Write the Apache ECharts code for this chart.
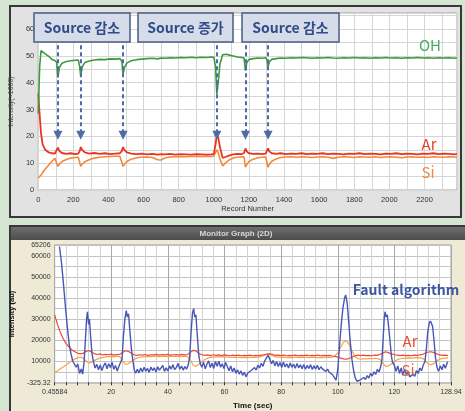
<!DOCTYPE html>
<html>
<head>
<meta charset="utf-8">
<script src="https://cdn.jsdelivr.net/npm/echarts@6/dist/echarts.min.js"></script>
<style>
html,body{margin:0;padding:0;background:#d4e5d2;}
#chart{width:465px;height:411px;}
</style>
</head>
<body>
<div id="chart"></div>
<script>
// ---- Upper panel: OES intensity trend vs record number (values ×1000) ----
const topRecord = [0,8,16,25,40,60,80,95,105,112,120,135,160,185,210,228,236,242,250,265,290,320,350,380,410,440,465,476,483,490,505,530,560,590,620,650,680,700,720,750,780,810,840,870,900,930,960,985,1000,1010,1017,1025,1035,1050,1070,1090,1110,1135,1160,1172,1180,1188,1200,1225,1250,1275,1295,1303,1309,1316,1330,1355,1380,1410,1440,1470,1500,1530,1560,1590,1620,1650,1680,1710,1740,1770,1800,1830,1860,1890,1920,1950,1980,2010,2040,2070,2100,2130,2160,2190,2220,2250,2280,2310,2340,2370,2385];
const ohValue = [28.5,46,52,51.5,50.8,49.8,48.6,48.3,47.5,42,45.5,47.3,47.9,48.2,48.4,48.5,46,42.3,45.8,47.5,48.1,48.5,48.7,48.6,48.9,48.8,49,48,43,45.5,47.4,48.2,48.6,48.8,49,49.1,48.9,49.2,49.1,49.3,49.2,49.4,49.3,49.5,49.3,49.5,49.4,49.6,49.5,46,35.8,40,47,50.4,50.6,50.3,50,49.6,49.4,49.2,44.5,47.5,48.7,49,49.2,49.1,49.3,48.5,45.8,47.8,48.7,49,49.2,49.1,49.3,49.2,49.4,49.3,49.1,49.3,49.2,49.4,49.2,49.1,49.3,49.2,49.4,49.2,49.3,49.1,49.3,49.2,49.4,49.2,49.3,49.1,49.3,49.2,49.4,49.2,49.3,49.1,49.3,49.2,49.3,49.1,49.3];
const arValue = [36,28,21,17,15,14,13.7,13.6,14,15.8,14.6,13.8,13.5,13.7,13.4,13.6,14.5,16,15,14,13.6,13.8,13.5,13.7,13.4,13.6,13.7,14.5,16,15,14,13.6,13.4,13.6,13.3,13.5,13.2,13.4,13.3,13.5,13.2,13.4,13.3,13.2,13.4,13.3,13.2,13.3,13.5,17,20.5,19.5,16,12,12.4,12.9,13.3,13.5,13.4,13.8,15.5,14.3,13.7,13.5,13.6,13.4,13.6,14.3,15.5,14.4,13.7,13.5,13.7,13.4,13.6,13.5,13.7,13.4,13.6,13.5,13.7,13.4,13.6,13.5,13.3,13.6,13.5,13.7,13.4,13.6,13.5,13.3,13.6,13.5,13.7,13.4,13.6,13.5,13.3,13.6,13.5,13.7,13.4,13.6,13.5,13.3,13.5];
const siValue = [4.5,5,5.6,6.5,7.8,9.3,10.8,11.8,12,8.8,9.6,10.6,11.4,11.9,12.1,12.2,11.5,8.8,9.6,10.5,11.3,11.9,12.2,12.4,12.5,12.6,12.6,12,8.8,9.6,10.6,11.5,12,12.2,12.3,12.1,11.3,11.2,11.9,12.3,12.4,12.5,12.4,12.5,12.6,12.5,12.6,12.5,12.7,14,15,14,11.5,9,10.3,11.3,11.9,12.2,12.4,12.3,8.5,9.5,10.6,11.5,12,12.2,12.3,11.6,8.5,9.5,10.7,11.6,12.1,12.3,12.4,12.2,12.4,12.3,12.1,12.3,12.4,12.2,11.8,12.2,12.4,12.3,12.1,12.4,12.3,12.2,12.4,12.1,12.3,12.4,12.2,12,12.3,12.4,12.2,12.3,12.1,12.4,12.3,12.2,12.4,12.3,12.2];
// records where the source power was changed (arrow targets)
const eventRecords = [112, 242, 483, 1017, 1180, 1309];
const eventBoxes = ['Source 감소', 'Source 증가', 'Source 감소'];

// ---- Lower panel: monitor graph, intensity (au) vs time (sec) ----
const faultTime = [1.7,2.4,3.1,3.8,4.5,5.2,5.8,6.4,7.0,7.6,8.2,8.8,9.4,9.9,10.4,10.9,11.3,11.6,12.0,12.3,12.7,13.2,13.7,14.3,14.9,15.5,16.1,16.7,17.3,17.9,18.5,19.1,19.7,20.3,20.9,21.5,22.1,22.7,23.3,23.8,24.3,24.8,25.3,25.7,26.1,26.6,27.1,27.6,28.1,28.6,29.2,29.8,30.4,31.0,31.6,32.2,32.8,33.4,34.0,34.6,35.2,35.8,36.4,37.0,37.6,38.2,38.8,39.4,40.0,40.6,41.2,41.8,42.4,43.0,43.6,44.2,44.8,45.4,46.0,46.6,47.2,47.7,48.2,48.7,49.1,49.5,49.9,50.4,50.9,51.4,52.0,52.6,53.2,53.8,54.4,55.0,55.6,56.2,56.8,57.4,58.0,58.6,59.2,59.8,60.4,61.0,61.6,62.2,62.8,63.4,64.0,64.6,65.2,65.8,66.4,67.0,67.6,68.2,68.8,69.4,70.0,70.6,71.2,71.8,72.4,73.0,73.6,74.2,74.8,75.4,76.0,76.6,77.2,77.8,78.4,79.0,79.6,80.2,80.8,81.4,82.0,82.6,83.2,83.8,84.4,85.0,85.6,86.2,86.8,87.4,88.0,88.6,89.2,89.8,90.4,91.0,91.6,92.2,92.8,93.4,94.0,94.6,95.2,95.8,96.4,97.0,97.6,98.2,98.8,99.4,100.0,100.6,101.2,101.8,102.4,102.8,103.3,103.8,104.4,105.0,105.6,106.2,106.8,107.4,108.0,108.6,109.2,109.8,110.4,111.0,111.6,112.2,112.8,113.4,114.0,114.6,115.2,115.6,116.0,116.4,116.7,117.1,117.5,118.0,118.5,119.0,119.4,120.0,120.6,121.2,121.8,122.4,123.0,123.6,124.2,124.8,125.4,126.0,126.6,127.2,127.8,128.4,129.0,129.6,130.2,130.8,131.3,131.8,132.3,132.7,133.1,133.5,134.0,134.5,135.0,135.6,136.2,136.8,137.4,138.0,138.8];
const faultValue = [64500,57000,47000,36000,26000,17500,13500,10000,10800,7200,8600,4200,6300,3900,9500,21000,30500,33500,27500,30000,22000,13500,9800,6800,8500,6000,8200,5600,7900,9200,6400,8800,7000,9500,6200,8000,5400,7600,6800,11000,22000,30000,34000,31000,32500,24000,16000,10500,6000,4300,6200,4500,6800,5000,7200,5300,6600,4700,7300,5600,6900,4900,7400,5800,6500,8000,5200,6900,5400,7800,6300,8400,6000,7100,9000,6200,7700,5800,7500,6300,8400,12000,24000,33000,35000,31000,32000,22000,13000,9000,7200,9500,6400,8700,10200,7000,9100,6600,9900,7600,10000,7200,8800,6500,9400,8600,5500,7800,5000,6800,4300,6000,3900,5400,3300,4800,2600,4400,3500,5600,4800,7000,5800,8200,6800,9000,7600,10200,11500,12800,11000,8800,10400,7800,9900,7500,9400,7000,9600,7300,8800,6800,9200,7100,8600,6700,8900,6900,8300,6400,8500,6200,8000,6600,8400,6100,7800,6300,8100,6000,7400,6400,7000,5200,6300,4800,5600,3600,2200,1000,6000,17000,27000,35000,40000,41500,38000,30000,19500,11000,5500,2000,500,-100,1200,400,2300,1300,3200,2000,4200,3000,5000,3800,6200,4900,7600,10500,20000,30000,33500,31000,32000,26000,19000,12000,9200,8000,5200,7800,4200,6800,3300,6200,3800,5000,2600,1900,3900,2800,5600,4200,6800,5500,8200,9800,16000,24000,28000,29100,28000,26500,20000,12000,7400,5200,7800,6000,8600,6700,9800];
const monitorTime = [0,1,2,3,4,5,6,7,8,9,10,11,12,13,14,15,16,17,18,19,20,21,22,23,24,25,26,27,28,29,30,31,32,33,34,35,36,37,38,39,40,41,42,43,44,45,46,47,48,49,50,51,52,53,54,55,56,57,58,59,60,61,62,63,64,65,66,67,68,69,70,71,72,73,74,75,76,77,78,79,80,81,82,83,84,85,86,87,88,89,90,91,92,93,94,95,96,97,98,99,100,101,102,103,104,105,106,107,108,109,110,111,112,113,114,115,116,117,118,119,120,121,122,123,124,125,126,127,128,129,130,131,132,133,134,135,136,137,138,139];
const monitorAr = [32000,27500,23800,20800,18500,16800,15500,14600,13900,13500,13700,14600,15100,14400,13600,13200,13500,13000,13300,13100,13400,12900,13200,13300,14200,15000,14700,13800,13100,12800,13100,12900,13200,12800,13100,13000,13300,12900,13200,13000,13300,12900,13100,13200,12900,13300,13000,13200,14300,15200,14800,13700,13100,12800,13000,12700,13100,12800,13000,12700,13000,12800,12600,12900,12700,12900,12600,12800,12700,12900,12600,12800,12700,12900,13100,13300,13600,13200,12800,12900,12700,12900,12600,12800,12700,12900,12600,12800,12700,12900,12600,12800,12700,12900,12600,12800,12700,12800,12500,12300,12000,11500,11100,11000,11300,11900,12500,12900,12700,12900,12700,12800,12600,12900,12800,13300,14000,14500,14000,13500,13100,12900,12700,12900,12700,12800,12600,12900,12800,13000,13300,13900,14400,14500,14100,13500,13000,12800,12900,12700];
const monitorSi = [4500,5400,6400,7300,8200,9200,10100,11000,11600,12000,11600,10200,9200,9500,10300,11000,11500,11800,12100,12200,12300,12200,12400,12200,10000,8600,8800,9800,10800,11500,11900,12100,12200,12300,12200,12400,12300,12200,12400,12300,12200,12400,12300,12400,12200,12300,12400,12200,10500,8000,7600,8600,9800,10800,11400,11800,12000,12100,12200,12100,12200,12000,11900,11800,11900,11800,11700,11800,11700,11800,11900,11800,12000,12300,12800,13500,13200,12600,12100,12000,11800,11900,11700,11800,11700,11900,11800,11700,11900,11800,11700,11900,11800,11700,11800,11700,11900,11800,11900,12500,14000,16500,19000,19800,18000,15000,12500,11300,11000,11200,11100,11300,11200,11400,11300,10800,8800,7500,7800,8800,9900,10700,11200,11400,11500,11600,11500,11600,11700,11600,11400,10200,8800,8300,9000,10200,11000,11400,11500,11600];
const monitorYLabels = [-325.32, 10000, 20000, 30000, 40000, 50000, 60000, 65206];
const monitorYGrid = [0,5000,10000,15000,20000,25000,30000,35000,40000,45000,50000,55000,60000,65000];
const monitorXEnds = { start: '0.45584', end: '128.94' };

const KR = '"Noto Sans CJK KR", "Noto Sans", sans-serif';
const SANS = '"Liberation Sans", Arial, sans-serif';

const chart = echarts.init(document.getElementById('chart'), null, { renderer: 'canvas' });

const pairs = (xs, ys) => xs.map((x, i) => [x, ys[i]]);

const arrowLines = eventRecords.map(r => [
  { coord: [r, 54], symbol: 'none' },
  { coord: [r, 20.4], symbol: 'triangle' }
]);

const option = {
  backgroundColor: '#d4e5d2',
  animation: false,
  grid: [
    { left: 33, top: 13, width: 424, height: 177, show: true, backgroundColor: '#ffffff', borderColor: '#a6a6a6', borderWidth: 1 },
    { left: 50, top: 245, width: 401, height: 138, show: true, backgroundColor: '#ffffff', borderColor: '#9c9c9c', borderWidth: 1 }
  ],
  xAxis: [
    {
      type: 'value', gridIndex: 0, min: 0, max: 2385, interval: 100,
      name: 'Record Number', nameLocation: 'middle', nameGap: 15,
      nameTextStyle: { fontSize: 7.5, color: '#333', fontFamily: SANS },
      axisLine: { show: false }, axisTick: { show: false },
      axisLabel: { fontSize: 7.5, color: '#333', fontFamily: SANS, margin: 6,
        formatter: v => (v % 200 === 0 ? String(v) : '') },
      splitLine: { show: true, lineStyle: { color: '#d6d6d6', width: 1 } }
    },
    {
      type: 'value', gridIndex: 1, min: 0, max: 140, interval: 20,
      name: 'Time (sec)', nameLocation: 'middle', nameGap: 19,
      nameTextStyle: { fontSize: 8, color: '#111', fontWeight: 'bold', fontFamily: SANS },
      axisLine: { show: false },
      axisTick: { show: true, length: 3, inside: false, lineStyle: { color: '#333' } },
      minorTick: { show: true, splitNumber: 5, length: 3, lineStyle: { color: '#333' } },
      axisLabel: { fontSize: 7, color: '#333', fontFamily: SANS, margin: 6,
        formatter: v => (v === 0 ? monitorXEnds.start : v === 140 ? monitorXEnds.end : String(v)) },
      splitLine: { show: true, lineStyle: { color: '#a9a9a9', width: 1 } },
      minorSplitLine: { show: true, lineStyle: { color: '#d3d3d3', width: 1 } }
    }
  ],
  yAxis: [
    {
      type: 'value', gridIndex: 0, min: 0, max: 66, interval: 5,
      name: 'Intensity(×1000)', nameLocation: 'middle', nameGap: 14, nameRotate: 90,
      nameTextStyle: { fontSize: 7, color: '#444', fontFamily: SANS },
      axisLine: { show: false }, axisTick: { show: false },
      axisLabel: { fontSize: 7.5, color: '#333', fontFamily: SANS, margin: 4,
        formatter: v => (v % 10 === 0 ? String(v) : '') },
      splitLine: { show: true, lineStyle: { color: '#d6d6d6', width: 1 } }
    },
    {
      type: 'value', gridIndex: 1, min: -325.32, max: 65206,
      name: 'Intensity (au)', nameLocation: 'middle', nameGap: 33, nameRotate: 90,
      nameTextStyle: { fontSize: 7.5, color: '#111', fontWeight: 'bold', fontFamily: SANS },
      axisLine: { show: false },
      axisTick: { show: false, customValues: monitorYGrid },
      axisLabel: { fontSize: 7, color: '#333', fontFamily: SANS, margin: 4,
        customValues: monitorYLabels, formatter: v => String(v) },
      splitLine: { show: true, lineStyle: { color: '#c2c2c2', width: 1 } }
    }
  ],
  series: [
    { name: 'Si', type: 'line', xAxisIndex: 0, yAxisIndex: 0, data: pairs(topRecord, siValue),
      showSymbol: false, lineStyle: { color: '#f28a3e', width: 1.6 }, z: 2 },
    { name: 'Ar', type: 'line', xAxisIndex: 0, yAxisIndex: 0, data: pairs(topRecord, arValue),
      showSymbol: false, lineStyle: { color: '#ea3420', width: 1.8 }, z: 3 },
    { name: 'OH', type: 'line', xAxisIndex: 0, yAxisIndex: 0, data: pairs(topRecord, ohValue),
      showSymbol: false, lineStyle: { color: '#3d9a3f', width: 1.6 }, z: 4,
      markLine: {
        silent: true, animation: false,
        symbolSize: 9,
        label: { show: false },
        lineStyle: { color: '#4d6ca6', width: 2, type: [4, 3] },
        data: arrowLines
      }
    },
    { name: 'Si', type: 'line', xAxisIndex: 1, yAxisIndex: 1, data: pairs(monitorTime, monitorSi),
      showSymbol: false, lineStyle: { color: '#f5a24a', width: 1.2 }, z: 2 },
    { name: 'Ar', type: 'line', xAxisIndex: 1, yAxisIndex: 1, data: pairs(monitorTime, monitorAr),
      showSymbol: false, lineStyle: { color: '#ec4a36', width: 1.2 }, z: 3 },
    { name: 'Fault algorithm', type: 'line', xAxisIndex: 1, yAxisIndex: 1, data: pairs(faultTime, faultValue),
      showSymbol: false, lineStyle: { color: '#4657b8', width: 1.4 }, z: 4 }
  ],
  graphic: [
    // window frames
    { type: 'rect', z: -10, shape: { x: 10, y: 6, width: 451, height: 211 },
      style: { fill: '#e2e2e2', stroke: '#383838', lineWidth: 2 } },
    { type: 'rect', z: -10, shape: { x: 10, y: 226, width: 470, height: 200 },
      style: { fill: '#eeead6', stroke: '#383838', lineWidth: 2 } },
    { type: 'rect', z: -9, shape: { x: 11, y: 227, width: 460, height: 13 },
      style: { fill: new echarts.graphic.LinearGradient(0, 0, 0, 1, [
        { offset: 0, color: '#6e6e6e' }, { offset: 1, color: '#4c4c4c' }]) } },
    { type: 'text', z: 5, x: 236, y: 234,
      style: { text: 'Monitor Graph (2D)', fill: '#d6d6d6', font: 'bold 8px ' + SANS, align: 'center', verticalAlign: 'middle' } },

    // event callouts
    { type: 'rect', z: 100, shape: { x: 34, y: 13, width: 96, height: 29 },
      style: { fill: '#d6dcea', stroke: '#4b5c80', lineWidth: 1.5 } },
    { type: 'rect', z: 100, shape: { x: 138, y: 13, width: 95, height: 29 },
      style: { fill: '#d6dcea', stroke: '#4b5c80', lineWidth: 1.5 } },
    { type: 'rect', z: 100, shape: { x: 242, y: 13, width: 97, height: 29 },
      style: { fill: '#d6dcea', stroke: '#4b5c80', lineWidth: 1.5 } },
    { type: 'text', z: 101, x: 82, y: 28,
      style: { text: eventBoxes[0], fill: '#2f4c86', font: 'bold 14px ' + KR, align: 'center', verticalAlign: 'middle' } },
    { type: 'text', z: 101, x: 185.5, y: 28,
      style: { text: eventBoxes[1], fill: '#2f4c86', font: 'bold 14px ' + KR, align: 'center', verticalAlign: 'middle' } },
    { type: 'text', z: 101, x: 290.5, y: 28,
      style: { text: eventBoxes[2], fill: '#2f4c86', font: 'bold 14px ' + KR, align: 'center', verticalAlign: 'middle' } },

    // series names, upper panel
    { type: 'text', z: 101, x: 430, y: 45,
      style: { text: 'OH', fill: '#48ad5e', font: '15px ' + KR, align: 'center', verticalAlign: 'middle' } },
    { type: 'text', z: 101, x: 429, y: 144,
      style: { text: 'Ar', fill: '#e9402a', font: '15px ' + KR, align: 'center', verticalAlign: 'middle' } },
    { type: 'text', z: 101, x: 428, y: 172,
      style: { text: 'Si', fill: '#f08a4a', font: '15px ' + KR, align: 'center', verticalAlign: 'middle' } },

    // series names, lower panel
    { type: 'text', z: 101, x: 406, y: 290,
      style: { text: 'Fault algorithm', fill: '#3c579e', font: 'bold 14px ' + KR, align: 'center', verticalAlign: 'middle' } },
    { type: 'text', z: 101, x: 410, y: 341,
      style: { text: 'Ar', fill: '#e84c38', font: '15px ' + KR, align: 'center', verticalAlign: 'middle' } },
    { type: 'text', z: 101, x: 408, y: 370,
      style: { text: 'Si', fill: '#e8603e', font: '15px ' + KR, align: 'center', verticalAlign: 'middle' } }
  ]
};

chart.setOption(option);
</script>
</body>
</html>
